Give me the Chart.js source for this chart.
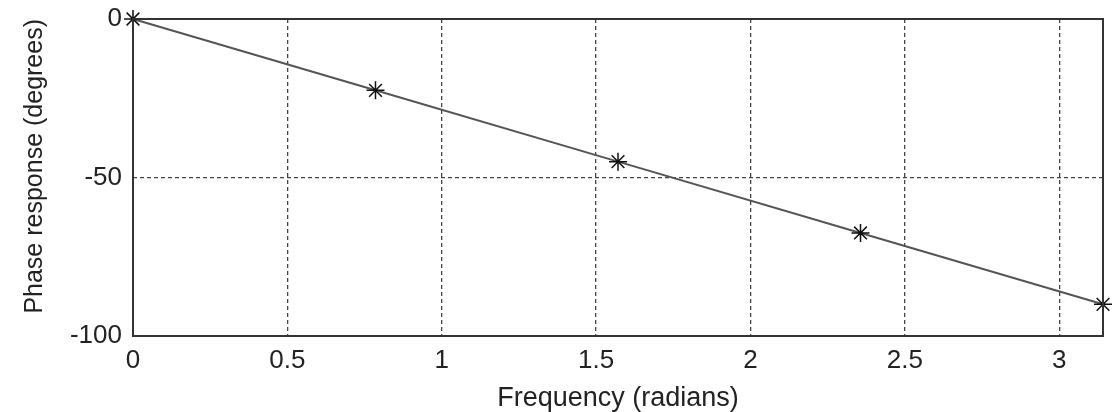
<!DOCTYPE html>
<html>
<head>
<meta charset="utf-8">
<script src="https://cdn.jsdelivr.net/npm/chart.js@4"></script>
<style>
    html, body { margin: 0; padding: 0; background: #fff; }
    #wrap { width: 1117px; height: 412px; }
</style>
</head>
<body>
<div id="wrap"><canvas id="phaseChart"></canvas></div>
<script>
// Sampled frequencies (rad) and phase response (deg)
const frequencies = [0, 0.7854, 1.5708, 2.3562, 3.1416];
const phaseDegrees = [0, -22.5, -45, -67.5, -90];
const xTickValues = [0, 0.5, 1, 1.5, 2, 2.5, 3];
const yTickValues = [-100, -50, 0];

const points = frequencies.map((f, i) => ({ x: f, y: phaseDegrees[i] }));

const textColor = '#222';
const family = 'Liberation Sans, Arial, sans-serif';

// Box around plot area (MATLAB style)
const frameBox = {
    id: 'frameBox',
    afterDatasetsDraw(chart) {
        const { ctx, chartArea: a } = chart;
        ctx.save();
        ctx.strokeStyle = '#333';
        ctx.lineWidth = 2;
        ctx.strokeRect(a.left, a.top, a.right - a.left, a.bottom - a.top);
        ctx.restore();
    }
};

new Chart(document.getElementById('phaseChart').getContext('2d'), {
    type: 'line',
    data: {
        datasets: [{
            data: points,
            borderColor: '#555',
            borderWidth: 2,
            pointStyle: 'star',
            pointRadius: 9,
            pointBorderColor: '#111',
            pointBorderWidth: 1.5,
            pointBackgroundColor: '#111',
            tension: 0,
            clip: false
        }]
    },
    options: {
        responsive: true,
        maintainAspectRatio: false,
        animation: false,
        layout: { padding: { left: 0, right: 14, top: 19, bottom: 0 } },
        plugins: {
            legend: { display: false },
            tooltip: { enabled: false }
        },
        scales: {
            x: {
                type: 'linear',
                min: 0,
                max: Math.PI,
                afterBuildTicks: scale => { scale.ticks = xTickValues.map(v => ({ value: v })); },
                afterFit: scale => { scale.height = 76; scale.paddingLeft = 0; scale.paddingRight = 0; },
                ticks: { color: textColor, font: { family, size: 26 }, padding: 9, maxRotation: 0, callback: v => String(v) },
                grid: { color: '#444', lineWidth: 1.3, drawTicks: false },
                border: { display: false, dash: [4, 3] },
                title: {
                    display: true,
                    text: 'Frequency (radians)',
                    color: textColor,
                    font: { family, size: 27, lineHeight: 1.0 },
                    padding: { top: 0, bottom: 0 }
                }
            },
            y: {
                type: 'linear',
                min: -100,
                max: 0,
                afterBuildTicks: scale => { scale.ticks = yTickValues.map(v => ({ value: v })); },
                afterFit: scale => { scale.width = 133; scale.paddingTop = 0; scale.paddingBottom = 0; },
                ticks: { color: textColor, font: { family, size: 26 }, padding: 11, callback: v => String(v) },
                grid: { color: '#444', lineWidth: 1.3, drawTicks: false },
                border: { display: false, dash: [4, 3] },
                title: {
                    display: true,
                    text: 'Phase response (degrees)',
                    align: 'end',
                    color: textColor,
                    font: { family, size: 25 },
                    padding: { top: 20, bottom: 0 }
                }
            }
        }
    },
    plugins: [frameBox]
});
</script>
</body>
</html>
